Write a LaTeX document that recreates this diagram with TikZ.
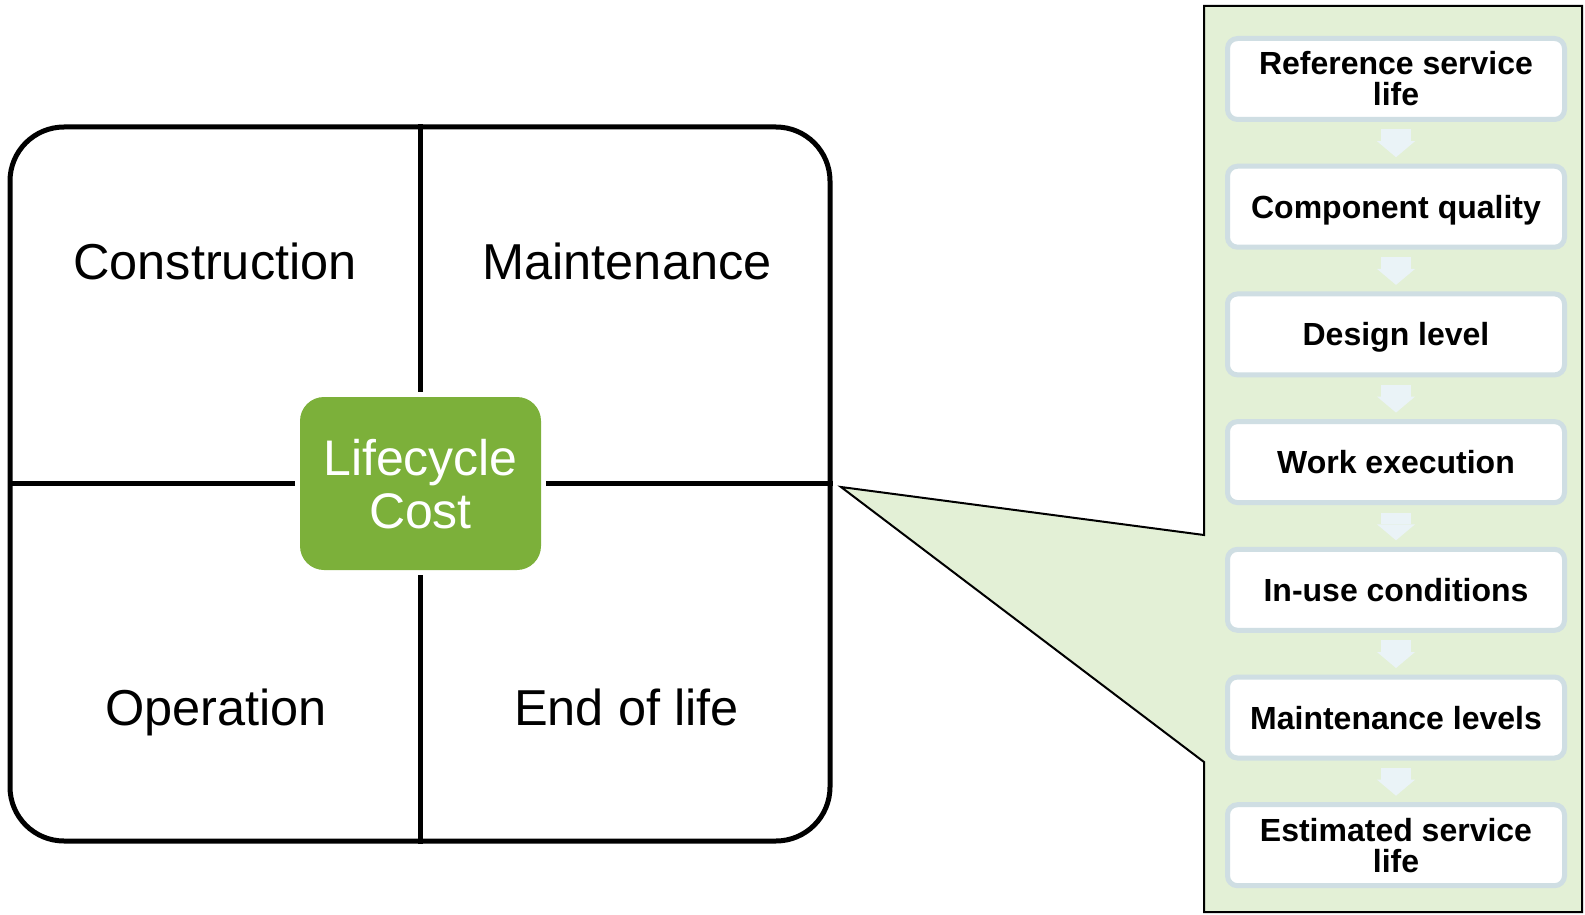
\documentclass[tikz,border=0pt]{standalone}
\usepackage{fontspec}
\setmainfont{Liberation Sans}
\usepackage{tikz}
\usetikzlibrary{calc}
\usetikzlibrary{arrows.meta}
\definecolor{lccgreen}{RGB}{124,176,58}
\definecolor{panelgreen}{RGB}{227,240,214}
\definecolor{boxrim}{RGB}{207,222,227}
\definecolor{flowblue}{RGB}{234,243,247}
\tikzset{
  quad/.style={font=\fontsize{50.5}{50}\selectfont, anchor=base},
  factor/.style={draw=boxrim, line width=5pt, fill=white, rounded corners=10pt,
    minimum width=337pt, minimum height=81pt, align=center, text height=23pt, text depth=0pt,
    font=\fontsize{32}{31}\selectfont\bfseries},
  twoline/.style={text height=54pt},
  divider/.style={line width=5pt, shorten <=5pt},
  flow/.style={flowblue, line width=30pt, shorten <=7.5pt, shorten >=6.5pt,
    -{Triangle[width=38pt,length=16pt,line width=0pt]}}
}

\begin{document}
\begin{tikzpicture}[x=1pt,y=-1pt]

\useasboundingbox (0,0) rectangle (1585,915);

\filldraw[fill=panelgreen, draw=black, line width=2pt, line join=miter]
  (1204,6) -- (1582,6) -- (1582,912) -- (1204,912) -- (1204,762)
  -- (841,487) -- (1204,535) -- cycle;

\node[draw, line width=5pt, rounded corners=54pt, minimum width=820pt, minimum height=714pt] (frame) at (420,484) {};
\node[fill=lccgreen, rounded corners=24pt, minimum width=241pt, minimum height=173pt, text=white, align=center,
  font=\fontsize{50}{53}\selectfont, text height=89pt, text depth=0pt] (lcc) at (420.5,483.5) {Lifecycle\\Cost};

\draw[divider] (lcc.north) -- (lcc.north |- frame.north);
\draw[divider] (lcc.south) -- (lcc.south |- frame.south);
\draw[divider] (lcc.west) -- (lcc.west -| frame.west);
\draw[divider] (lcc.east) -- (lcc.east -| frame.east);

\node[quad] (cons) at (215,279) {Construction};
\node[quad] (maint) at (627,279) {Maintenance};
\node[quad] (oper) at (216,725) {Operation};
\node[quad] (eol) at (626.5,725) {End of life};

\node[factor, twoline] (rsl) at (1396,79) {Reference service\\life};
\node[factor] (cq) at (1396,206.7) {Component quality};
\node[factor] (dl) at (1396,334.4) {Design level};
\node[factor] (we) at (1396,462.1) {Work execution};
\node[factor] (iuc) at (1396,589.8) {In-use conditions};
\node[factor] (ml) at (1396,717.5) {Maintenance levels};
\node[factor, twoline] (esl) at (1396,845.2) {Estimated service\\life};

\draw[flow] (rsl) -- (cq);
\draw[flow] (cq) -- (dl);
\draw[flow] (dl) -- (we);
\draw[flow] (we) -- (iuc);
\draw[flow] (iuc) -- (ml);
\draw[flow] (ml) -- (esl);

\end{tikzpicture}
\end{document}
